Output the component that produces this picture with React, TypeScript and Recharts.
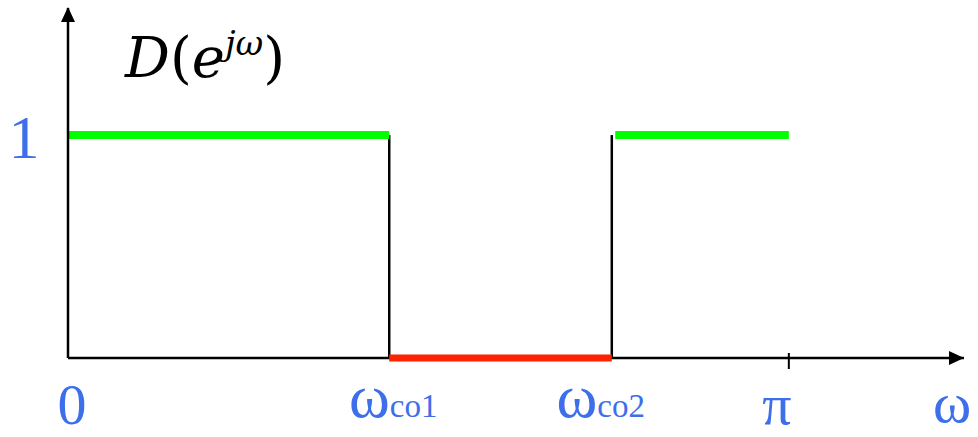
import { LineChart, Line, XAxis, YAxis, ReferenceDot } from 'recharts'

const BLUE = '#3d6feb'
const LABEL_FONT = "'Liberation Serif', 'Liberation Sans', serif"
const TITLE_FONT = "'DejaVu Serif', 'DejaVu Sans', serif"

// cutoff frequencies (rad)
const WCO1 = 1.4
const WCO2 = 2.37
const PI = Math.PI
const X_MAX = 3.905
const Y_MAX = 1.57

const baseAxis = [
  { w: 0, d: 0 },
  { w: X_MAX, d: 0 },
]
const passLow = [
  { w: 0, d: 1 },
  { w: WCO1, d: 1 },
]
const edge1 = [
  { w: WCO1, d: 1 },
  { w: WCO1, d: 0 },
]
const stopBand = [
  { w: WCO1, d: 0 },
  { w: WCO2, d: 0 },
]
const edge2 = [
  { w: WCO2, d: 1 },
  { w: WCO2, d: 0 },
]
const passHigh = [
  { w: 2.385, d: 1 },
  { w: PI, d: 1 },
]

const xTicks = [0, WCO1, WCO2, PI, X_MAX]
const xLabels = ['0', 'ω|co1', 'ω|co2', 'π', 'ω']
const yTicks = [1]
const yLabels = ['1']

function XTick({ x, y, payload, index }: any) {
  const label = xLabels[index] ?? ''
  const [main, sub] = label.split('|')
  const dx = [4, 4, -11, -12, -12][index] ?? 0
  const base = [66, 59, 59, 66, 64][index] ?? 66
  return (
    <g>
      {payload.value === PI && <line x1={x} x2={x} y1={y - 5} y2={y + 11} stroke="#000" strokeWidth={2} />}
      <text x={x + dx} y={y + base} textAnchor="middle" fill={BLUE} fontFamily={LABEL_FONT} fontSize={sub ? 62 : 58}>
        {main}
        {sub && <tspan fontSize={33}>{sub}</tspan>}
      </text>
    </g>
  )
}

function YTick({ y, index }: any) {
  return (
    <text x={24} y={y + 23} textAnchor="middle" fill={BLUE} fontFamily={LABEL_FONT} fontSize={62}>
      {yLabels[index]}
    </text>
  )
}

const ArrowUp = ({ cx, cy }: any) => (
  <path d={`M${cx},${cy - 1} L${cx - 7},${cy + 14} L${cx + 7},${cy + 14} Z`} fill="#000" />
)
const ArrowRight = ({ cx, cy }: any) => (
  <path d={`M${cx},${cy} L${cx - 15},${cy - 7} L${cx - 15},${cy + 7} Z`} fill="#000" />
)

export default function App() {
  return (
    <div style={{ position: 'absolute', left: 0, top: 0, width: 978, height: 437, background: '#fff' }}>
      <LineChart width={978} height={437} margin={{ top: 8, right: 14, left: 0, bottom: 0 }}>
        <XAxis
          dataKey="w"
          type="number"
          domain={[0, X_MAX]}
          ticks={xTicks}
          tick={<XTick />}
          tickLine={false}
          tickSize={0}
          tickMargin={0}
          axisLine={false}
          height={79}
          interval={0}
        />
        <YAxis
          type="number"
          domain={[0, Y_MAX]}
          ticks={yTicks}
          tick={<YTick />}
          tickLine={false}
          tickSize={0}
          axisLine={{ stroke: '#000', strokeWidth: 2.5 }}
          width={68}
        />
        <Line data={baseAxis} dataKey="d" stroke="#000" strokeWidth={2.5} dot={false} isAnimationActive={false} />
        <Line data={edge1} dataKey="d" stroke="#000" strokeWidth={2.5} dot={false} isAnimationActive={false} />
        <Line data={edge2} dataKey="d" stroke="#000" strokeWidth={2.5} dot={false} isAnimationActive={false} />
        <Line data={passLow} dataKey="d" stroke="#00ff00" strokeWidth={8} dot={false} isAnimationActive={false} />
        <Line data={passHigh} dataKey="d" stroke="#00ff00" strokeWidth={8} dot={false} isAnimationActive={false} />
        <Line data={stopBand} dataKey="d" stroke="#ff2200" strokeWidth={7} dot={false} isAnimationActive={false} />
        <ReferenceDot x={0} y={Y_MAX} ifOverflow="visible" shape={<ArrowUp />} />
        <ReferenceDot x={X_MAX} y={0} ifOverflow="visible" shape={<ArrowRight />} />
      </LineChart>
      <div
        style={{
          position: 'absolute',
          left: 125,
          top: 8,
          fontFamily: TITLE_FONT,
          fontSize: 56,
          lineHeight: '70px',
          color: '#000',
          whiteSpace: 'nowrap',
        }}
      >
        <i>D</i>(<i>e</i>
        <sup style={{ fontSize: 34, verticalAlign: 22, fontStyle: 'italic' }}>jω</sup>)
      </div>
    </div>
  )
}
